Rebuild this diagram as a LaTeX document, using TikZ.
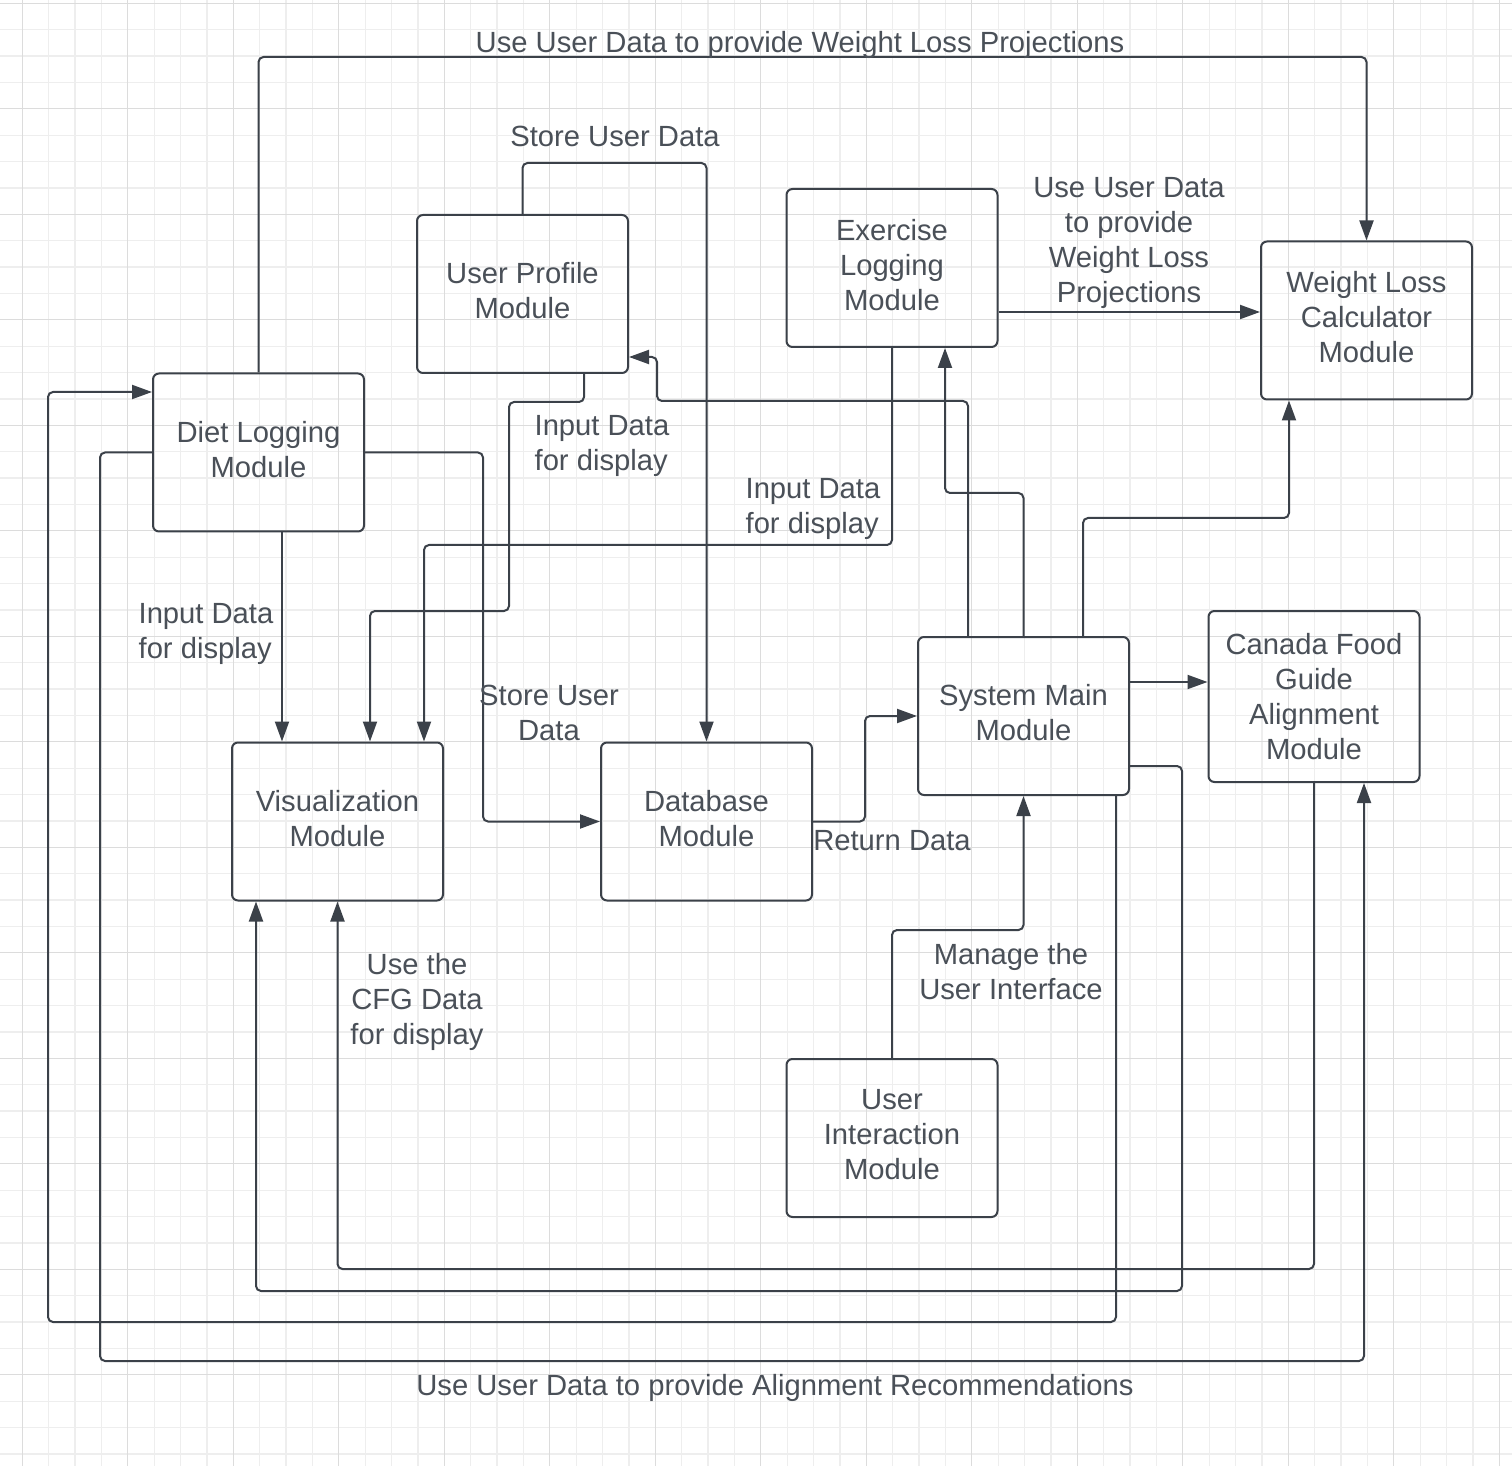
\documentclass[tikz,border=0pt]{standalone}
\usepackage{fontspec}
\setmainfont{Liberation Sans}
\usepackage{tikz}
\usetikzlibrary{arrows.meta}
\definecolor{lineclr}{HTML}{3B4149}
\definecolor{textclr}{HTML}{4A5058}
\definecolor{gridminor}{HTML}{EEEEEE}
\definecolor{gridmajor}{HTML}{DCDCDC}

\begin{document}
\begin{tikzpicture}[x=0.5pt,y=-0.5pt,
    module/.style={draw=lineclr,line width=1pt,rounded corners=3pt,
      minimum width=105.5pt,minimum height=79pt,align=center,text depth=3.5pt,
      text=textclr,font=\fontsize{14.6}{17.5}\selectfont},
    conn/.style={draw=lineclr,line width=1pt,rounded corners=2.5pt,
      -{Triangle[length=10pt,width=7pt]}},
    lbl/.style={text=textclr,font=\fontsize{14.6}{17.5}\selectfont,
      align=center,inner sep=0pt}]

  \fill[white] (0,0) rectangle (1512,1466);
  \useasboundingbox (0,0) rectangle (1512,1466);

  % grid
  \foreach \k in {0,...,56}
    \draw[gridminor,line width=0.6pt] ({22.3+26.375*\k},0) -- ++(0,1466);
  \foreach \k in {0,...,55}
    \draw[gridminor,line width=0.6pt] (0,{3.3+26.375*\k}) -- ++(1512,0);
  \foreach \k in {0,...,14}
    \draw[gridmajor,line width=0.6pt] ({22.3+105.5*\k},0) -- ++(0,1466);
  \foreach \k in {0,...,13}
    \draw[gridmajor,line width=0.6pt] (0,{3.3+105.5*\k}) -- ++(1512,0);

  \node[module] (prof) at (522.5,294) {User Profile\\Module};
  \node[module] (exer) at (892,268) {Exercise\\Logging\\Module};
  \node[module] (wlc) at (1366.5,320.5) {Weight Loss\\Calculator\\Module};
  \node[module] (diet) at (258.5,452.5) {Diet Logging\\Module};
  \node[module,minimum height=85.5pt,text depth=0pt] (cfg) at (1314,696.5) {Canada Food\\Guide\\Alignment\\Module};
  \node[module] (sysm) at (1023.5,716) {System Main\\Module};
  \node[module] (vis) at (337.5,821.5) {Visualization\\Module};
  \node[module] (db) at (706.5,821.5) {Database\\Module};
  \node[module] (ui) at (892,1138) {User\\Interaction\\Module};

  \draw[conn] (diet.north) -- (diet.north |- 0,57) -| (wlc.north);
  \draw[conn] (prof.north) -- (prof.north |- 0,163) -| (db.north);
  \draw[conn] (exer.east |- 0,312) -- (wlc.west |- 0,312);
  \draw[conn] (prof.south -| 584,0) |- (509,402) |- (370,611) -- (vis.north -| 370,0);
  \draw[conn] (exer.south) |- (424,545) -- (vis.north -| 424,0);
  \draw[conn] (sysm.north -| 968,0) |- (657,401) |- (prof.east |- 0,357);
  \draw[conn] (sysm.north) |- (945,493) -- (exer.south -| 945,0);
  \draw[conn] (sysm.north -| 1083,0) |- (1289,518) -- (wlc.south -| 1289,0);
  \draw[conn] (sysm.east |- 0,682) -- (cfg.west |- 0,682);
  \draw[conn] (db.east) -| (865,716) -- (sysm.west);
  \draw[conn] (ui.north) |- (sysm.south |- 0,930) -- (sysm.south);
  \draw[conn] (diet.south -| 282,0) -- (vis.north -| 282,0);
  \draw[conn] (diet.east) -| (db.west -| 483,0) -- (db.west);
  \draw[conn] (cfg.south) |- (vis.south |- 0,1269) -- (vis.south);
  \draw[conn] (sysm.east |- 0,766) -| (1182,1291) -| (vis.south -| 256,0);
  \draw[conn] (sysm.south -| 1116,0) |- (48,1322) |- (diet.west |- 0,392);
  \draw[conn] (diet.west) -| (100,1361) -| (cfg.south -| 1364,0);

  \node[lbl] (lbltop) at (800,45) {Use User Data to provide Weight Loss Projections};
  \node[lbl] (lblstore) at (615,136) {Store User Data};
  \node[lbl] (lblexer) at (1129,243) {Use User Data\\to provide\\Weight Loss\\Projections};
  \node[lbl,align=left] (lblprof) at (602,446) {Input Data\\for display};
  \node[lbl,align=left] (lblexin) at (813,509) {Input Data\\for display};
  \node[lbl,align=left] (lbldiet) at (206,634) {Input Data\\for display};
  \node[lbl] (lbldb) at (549,713) {Store User\\Data};
  \node[lbl] (lblret) at (892,841) {Return Data};
  \node[lbl] (lblcfg) at (417,1002) {Use the\\CFG Data\\for display};
  \node[lbl] (lblui) at (1011,972) {Manage the\\User Interface};
  \node[lbl] (lblbot) at (775,1388) {Use User Data to provide Alignment Recommendations};
\end{tikzpicture}
\end{document}
